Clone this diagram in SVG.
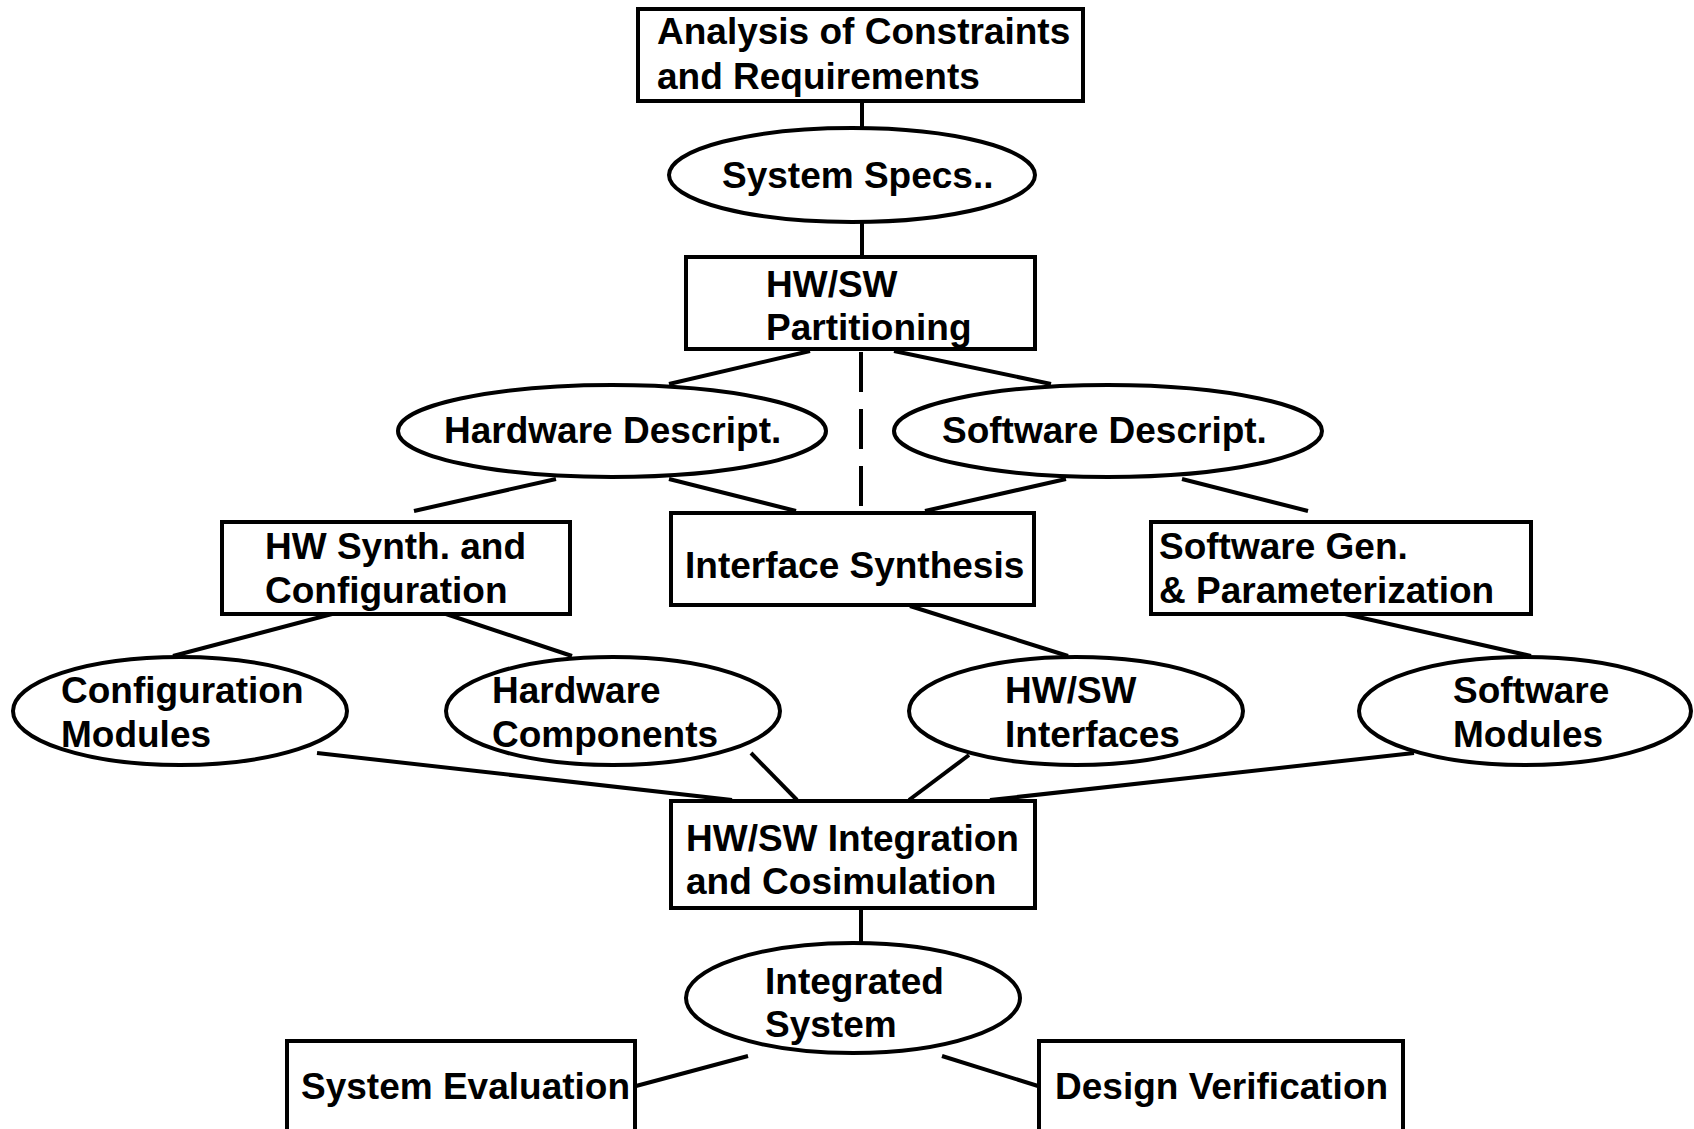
<svg xmlns="http://www.w3.org/2000/svg" width="1694" height="1129" viewBox="0 0 1694 1129">
  <style>
    .box { fill: #fff; stroke: #000; stroke-width: 4; }
    .oval { fill: #fff; stroke: #000; stroke-width: 4; }
    .link { stroke: #000; stroke-width: 4; fill: none; }
    .dash { stroke-dasharray: 40 17; }
    text { font-family: "Liberation Sans", Arial, sans-serif; font-weight: bold; font-size: 37px; fill: #000; }
  </style>
  <rect width="1694" height="1129" fill="#fff"/>

  <!-- connectors -->
  <g id="connectors">
    <line class="link" x1="862" y1="101" x2="862" y2="128"/>
    <line class="link" x1="862" y1="222" x2="862" y2="257"/>
    <line class="link" x1="810" y1="351" x2="669" y2="384"/>
    <line class="link" x1="894" y1="351" x2="1051" y2="384"/>
    <line class="link dash" x1="861" y1="352" x2="861" y2="512"/>
    <line class="link" x1="556" y1="479" x2="414" y2="511"/>
    <line class="link" x1="669" y1="479" x2="796" y2="511"/>
    <line class="link" x1="1066" y1="479" x2="925" y2="511"/>
    <line class="link" x1="1182" y1="479" x2="1308" y2="511"/>
    <line class="link" x1="332" y1="614" x2="173" y2="656"/>
    <line class="link" x1="446" y1="614" x2="572" y2="656"/>
    <line class="link" x1="910" y1="606" x2="1068" y2="656"/>
    <line class="link" x1="1345" y1="614" x2="1531" y2="656"/>
    <line class="link" x1="317" y1="753" x2="732" y2="800"/>
    <line class="link" x1="751" y1="753" x2="797" y2="800"/>
    <line class="link" x1="969" y1="755" x2="909" y2="800"/>
    <line class="link" x1="1414" y1="753" x2="990" y2="800"/>
    <line class="link" x1="861" y1="909" x2="861" y2="943"/>
    <line class="link" x1="748" y1="1056" x2="636" y2="1086"/>
    <line class="link" x1="942" y1="1056" x2="1038" y2="1086"/>
  </g>

  <g id="analysis">
    <rect class="box" x="638" y="9" width="445" height="92"/>
    <text x="657" y="44">Analysis of Constraints</text>
    <text x="657" y="89">and Requirements</text>
  </g>

  <g id="system-specs">
    <ellipse class="oval" cx="852" cy="175" rx="183" ry="47"/>
    <text x="722" y="188">System Specs..</text>
  </g>

  <g id="partitioning">
    <rect class="box" x="686" y="257" width="349" height="92"/>
    <text x="766" y="297">HW/SW</text>
    <text x="766" y="340">Partitioning</text>
  </g>

  <g id="hw-descript">
    <ellipse class="oval" cx="612" cy="431" rx="214" ry="46"/>
    <text x="444" y="443">Hardware Descript.</text>
  </g>

  <g id="sw-descript">
    <ellipse class="oval" cx="1108" cy="431" rx="214" ry="46"/>
    <text x="942" y="443">Software Descript.</text>
  </g>

  <g id="hw-synth">
    <rect class="box" x="222" y="522" width="348" height="92"/>
    <text x="265" y="559">HW Synth. and</text>
    <text x="265" y="603">Configuration</text>
  </g>

  <g id="interface-synthesis">
    <rect class="box" x="671" y="513" width="363" height="92"/>
    <text x="685" y="578">Interface Synthesis</text>
  </g>

  <g id="sw-gen">
    <rect class="box" x="1151" y="522" width="380" height="92"/>
    <text x="1159" y="559">Software Gen.</text>
    <text x="1159" y="603">&amp; Parameterization</text>
  </g>

  <g id="config-modules">
    <ellipse class="oval" cx="180" cy="711" rx="167" ry="54"/>
    <text x="61" y="703">Configuration</text>
    <text x="61" y="747">Modules</text>
  </g>

  <g id="hw-components">
    <ellipse class="oval" cx="613" cy="711" rx="167" ry="54"/>
    <text x="492" y="703">Hardware</text>
    <text x="492" y="747">Components</text>
  </g>

  <g id="hw-sw-interfaces">
    <ellipse class="oval" cx="1076" cy="711" rx="167" ry="54"/>
    <text x="1005" y="703">HW/SW</text>
    <text x="1005" y="747">Interfaces</text>
  </g>

  <g id="sw-modules">
    <ellipse class="oval" cx="1525" cy="711" rx="166" ry="54"/>
    <text x="1453" y="703">Software</text>
    <text x="1453" y="747">Modules</text>
  </g>

  <g id="integration">
    <rect class="box" x="671" y="801" width="364" height="107"/>
    <text x="686" y="851">HW/SW Integration</text>
    <text x="686" y="894">and Cosimulation</text>
  </g>

  <g id="integrated-system">
    <ellipse class="oval" cx="853" cy="998" rx="167" ry="55"/>
    <text x="765" y="994">Integrated</text>
    <text x="765" y="1037">System</text>
  </g>

  <g id="system-evaluation">
    <rect class="box" x="287" y="1041" width="348" height="110"/>
    <text x="301" y="1099">System Evaluation</text>
  </g>

  <g id="design-verification">
    <rect class="box" x="1039" y="1041" width="364" height="110"/>
    <text x="1055" y="1099">Design Verification</text>
  </g>
</svg>
